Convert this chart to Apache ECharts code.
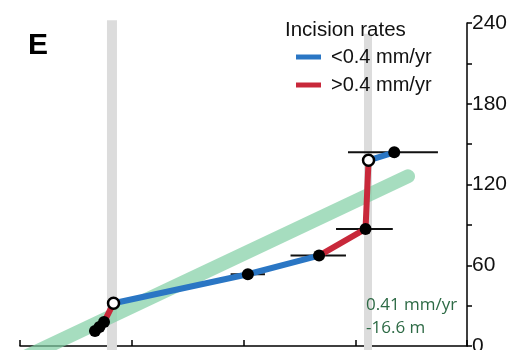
<!DOCTYPE html>
<html>
<head>
<meta charset="utf-8">
<script src="https://cdn.jsdelivr.net/npm/echarts@6/dist/echarts.min.js"></script>
<style>
html,body{margin:0;padding:0;background:#fff;}
#c{width:531px;height:350px;}
</style>
</head>
<body>
<div id="c"></div>
<script>
// ---- data ----
const yTickLabels = [0, 60, 120, 180, 240];
const pointsX = [67.1, 71.1, 75.2, 83.7, 203.9, 267.6, 309.2, 311.9, 334.9];
const pointsY = [11.2, 14.1, 17.8, 31.8, 53.3, 67.2, 87.0, 138.0, 143.9];
const hollow  = [false, false, false, true, false, false, false, true, false];
const errLo   = [62, null, 70, null, 188.5, 242.1, 282.8, null, 293.5];
const errHi   = [72, null, 80, null, 219.2, 291.7, 333.6, null, 374.0];
// rate class of each segment between consecutive points
const segClass = ['hi', 'hi', 'hi', 'lo', 'lo', 'hi', 'hi', 'lo'];
const bandX   = [82.3, 311.4];
const bandTop = [242, 232];
const trendX  = [5, 347.2];
const trendY  = [-8, 126.1];
const legendNames = { lo: '<0.4 mm/yr', hi: '>0.4 mm/yr' };
const rateText = ['0.41 mm/yr', '-16.6 m'];

const colors = { lo: '#2a76c4', hi: '#c8283a' };

const series = [];
// vertical gray bands
bandX.forEach((x, i) => {
  series.push({
    type: 'line', silent: true, clip: false, symbol: 'none', z: 1,
    data: [[x, bandTop[i]], [x, -10]],
    lineStyle: { color: '#dcdcdc', width: i === 0 ? 10 : 8, cap: 'butt' }
  });
});
// green trend
series.push({
  type: 'line', silent: true, clip: false, symbol: 'none', z: 2,
  data: trendX.map((x, i) => [x, trendY[i]]),
  lineStyle: { color: '#80cea4', opacity: 0.7, width: 14, cap: 'round' }
});
// error bars
pointsX.forEach((x, i) => {
  if (errLo[i] == null) return;
  series.push({
    type: 'line', silent: true, clip: false, symbol: 'none', z: 3,
    data: [[errLo[i], pointsY[i]], [errHi[i], pointsY[i]]],
    lineStyle: { color: '#111', width: 2 }
  });
});
// colored segments
segClass.forEach((c, i) => {
  series.push({
    type: 'line', name: legendNames[c], clip: false, symbol: 'none', z: 4,
    color: colors[c],
    data: [[pointsX[i], pointsY[i]], [pointsX[i + 1], pointsY[i + 1]]],
    lineStyle: { color: colors[c], width: 6, cap: 'round' }
  });
});
// points
series.push({
  type: 'scatter', z: 5, clip: false, symbolSize: 12,
  data: pointsX.map((x, i) => ({
    value: [x, pointsY[i]],
    symbolSize: hollow[i] ? 11 : 12,
    itemStyle: hollow[i]
      ? { color: '#fff', borderColor: '#000', borderWidth: 2.5, opacity: 1 }
      : { color: '#000', borderColor: '#000', borderWidth: 0, opacity: 1 }
  }))
});

const chart = echarts.init(document.getElementById('c'), null, { renderer: 'canvas' });
chart.setOption({
  animation: false,
  backgroundColor: '#fff',
  title: [
    { text: 'E', left: 28, top: 31, textStyle: { fontFamily: 'Liberation Sans', fontWeight: 'bold', fontSize: 30, color: '#000' }, padding: 0 },
    { text: 'Incision rates', left: 285, top: 20, textStyle: { fontFamily: 'Liberation Sans', fontWeight: 'normal', fontSize: 20.5, color: '#111' }, padding: 0 }
  ],
  legend: {
    data: [legendNames.lo, legendNames.hi],
    orient: 'vertical', left: 296, top: 47, padding: 0,
    icon: 'rect', itemWidth: 25, itemHeight: 5, itemGap: 8,
    textStyle: { fontFamily: 'Liberation Sans', fontSize: 20, color: '#111', lineHeight: 20, padding: [0, 0, 0, 5] }
  },
  grid: { left: 20, right: 64, top: 23, bottom: 4, containLabel: false, outerBoundsMode: 'none' },
  xAxis: {
    type: 'value', min: 0, max: 400, interval: 100,
    axisLine: { show: true, onZero: false, lineStyle: { color: '#000', width: 1.5 } },
    axisTick: { show: true, inside: true, length: 6, lineStyle: { color: '#000', width: 1.5 } },
    axisLabel: { show: false },
    splitLine: { show: false }
  },
  yAxis: {
    type: 'value', position: 'right', min: 0, max: 240, interval: 30,
    axisLine: { show: true, onZero: false, lineStyle: { color: '#000', width: 1.5 } },
    axisTick: { show: true, inside: false, length: 5, lineStyle: { color: '#000', width: 1.5 } },
    axisLabel: {
      margin: 5, fontFamily: 'Liberation Sans', fontSize: 21, color: '#111',
      formatter: v => (yTickLabels.indexOf(v) >= 0 ? String(v) : '')
    },
    splitLine: { show: false }
  },
  graphic: [
    { type: 'text', left: 366, top: 297, z: 100, style: { text: rateText[0], font: '17px "Open Sans"', fill: '#2d6a45' } },
    { type: 'text', left: 366, top: 320, z: 100, style: { text: rateText[1], font: '17px "Open Sans"', fill: '#2d6a45' } }
  ],
  series: series
});
</script>
</body>
</html>
